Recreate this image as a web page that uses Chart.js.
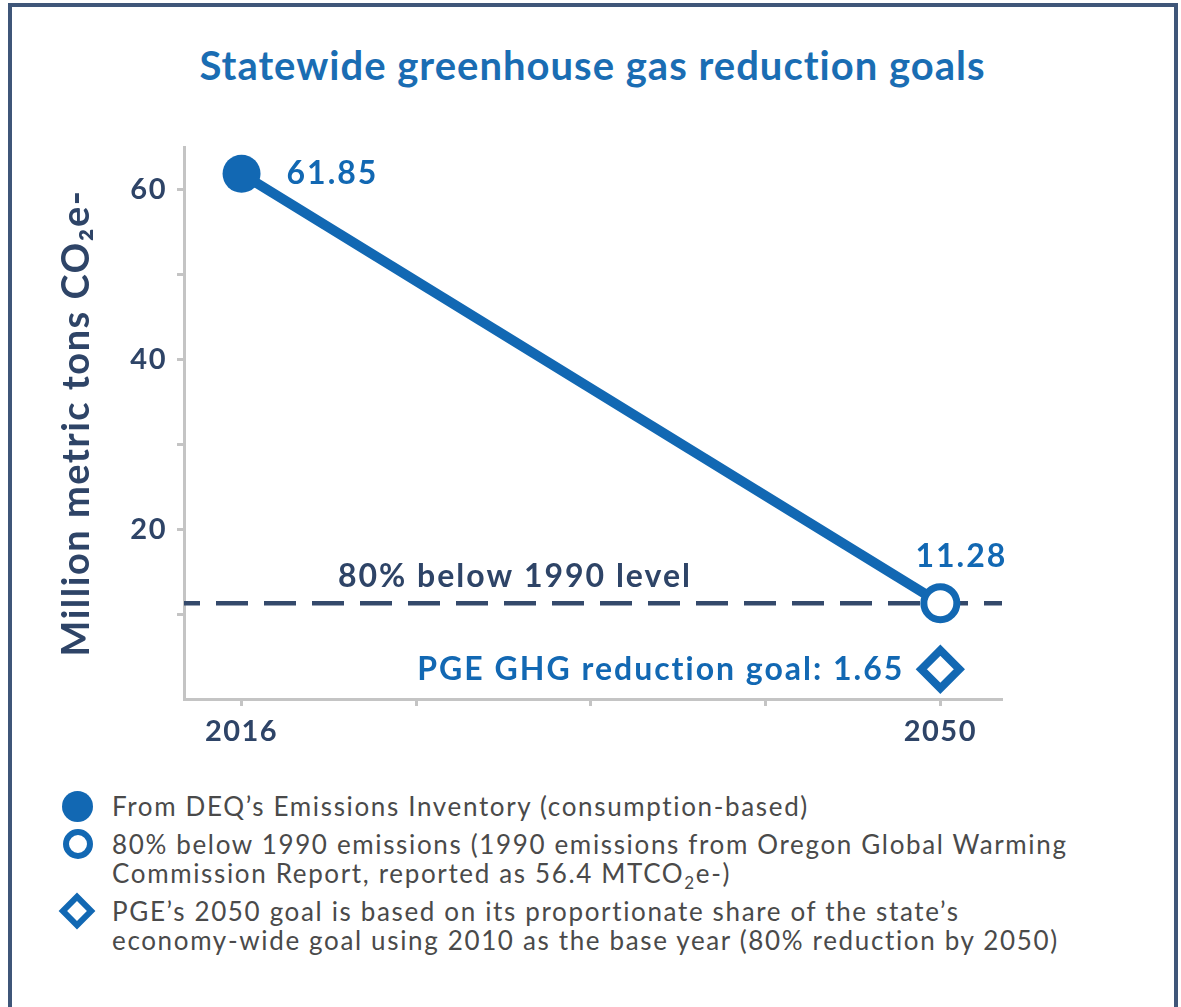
<!DOCTYPE html>
<html>
<head>
<meta charset="utf-8">
<script src="https://cdn.jsdelivr.net/npm/chart.js@4.4.1/dist/chart.umd.min.js"></script>
<style>
  html, body { margin: 0; padding: 0; background: #fff; overflow: hidden; }
  body { width: 1181px; height: 1007px; position: relative; font-family: Lato, "Open Sans", sans-serif; }
  #frame { position: absolute; left: 8px; top: 3px; width: 1170px; height: 1040px; border: 4px solid #3f5679; box-sizing: border-box; }
  #title { position: absolute; left: 2px; width: 1181px; top: 41px; text-align: center; font-size: 40px; font-weight: 700; letter-spacing: 1px; color: #1a6db3; line-height: 48px; }
  #wrap { position: absolute; left: 0; top: 0; width: 1181px; height: 780px; }
  #legend { position: absolute; left: 112px; top: 792px; color: #4a4a4a; font-size: 26px; letter-spacing: 1.65px; line-height: 29px; }
  #legend sub { font-size: 17px; line-height: 0; }
  .item { position: relative; margin-bottom: 9px; white-space: nowrap; }
  .mark { position: absolute; left: -50px; box-sizing: border-box; }
  .dot { width: 31px; height: 31px; border-radius: 50%; background: #1268b3; top: -1px; }
  .ring { width: 30px; height: 30px; border-radius: 50%; border: 6px solid #1268b3; top: -1px; left: -49px; }
  .dia { width: 26px; height: 26px; border: 6px solid #1268b3; transform: rotate(45deg); top: 1px; left: -48px; }
</style>
</head>
<body>
<div id="frame"></div>
<div id="title">Statewide greenhouse gas reduction goals</div>
<div id="wrap"><canvas id="chart"></canvas></div>
<div id="legend">
  <div class="item"><span class="mark dot"></span>From DEQ’s Emissions Inventory (consumption-based)</div>
  <div class="item"><span class="mark ring"></span>80% below 1990 emissions (1990 emissions from Oregon Global Warming<br>Commission Report, reported as 56.4 MTCO<sub>2</sub>e-)</div>
  <div class="item"><span class="mark dia"></span>PGE’s 2050 goal is based on its proportionate share of the state’s<br>economy-wide goal using 2010 as the base year (80% reduction by 2050)</div>
</div>
<script>
// dados do gráfico
const years = [2016, 2050];
const emissions = [61.85, 11.28];
const level1990 = 11.28;
const pgeGoal = 1.65;
const pgeGoalPlotted = 3.5; // onde o losango aparece na figura (acima do eixo)
const xTicks = [2016, 2024.5, 2033, 2041.5, 2050];
const xTickLabels = ['2016', '', '', '', '2050'];
const yTicks = [10, 20, 30, 40, 50, 60];
const yTickLabels = ['', '20', '', '40', '', '60'];
const xMin = 2013.2, xMax = 2053;

const blue = '#1268b3';
const navy = '#2e4467';
const grey = '#c4c4c4';

// espaçamento entre letras (a fonte original é mais larga que Lato)
const spacingPlugin = {
  id: 'espacamento',
  beforeDraw(chart) { chart.ctx.letterSpacing = '1.5px'; }
};

const labelsPlugin = {
  id: 'rotulos',
  afterDatasetsDraw(chart) {
    const ctx = chart.ctx;
    const p0 = chart.getDatasetMeta(0).data[0];
    const p1 = chart.getDatasetMeta(0).data[1];
    const d = chart.getDatasetMeta(2).data[0];
    const lineY = chart.scales.y.getPixelForValue(level1990);
    ctx.save();
    ctx.letterSpacing = '2px';
    ctx.textBaseline = 'middle';
    ctx.fillStyle = blue;
    ctx.font = '700 32px Lato';
    ctx.textAlign = 'left';
    ctx.fillText(emissions[0].toFixed(2), p0.x + 45, p0.y);
    ctx.textAlign = 'center';
    ctx.fillText(emissions[1].toFixed(2), p1.x + 21, p1.y - 47);
    ctx.textAlign = 'right';
    ctx.fillText('PGE GHG reduction goal: ' + pgeGoal.toFixed(2), d.x - 36, d.y);
    ctx.fillStyle = navy;
    ctx.textAlign = 'left';
    ctx.fillText('80% below 1990 level', chart.chartArea.left + 154, lineY - 27);
    ctx.restore();
  }
};

const ctx = document.getElementById('chart').getContext('2d');
new Chart(ctx, {
  type: 'line',
  data: {
    datasets: [
      {
        data: years.map((x, i) => ({ x: x, y: emissions[i] })),
        borderColor: blue,
        borderWidth: 10,
        pointRadius: [19, 16.5],
        pointBackgroundColor: [blue, '#fff'],
        pointBorderColor: blue,
        pointBorderWidth: [0, 7],
        clip: false
      },
      {
        data: [{ x: xMin, y: level1990 }, { x: xMax, y: level1990 }],
        borderColor: '#34496b',
        borderWidth: 4.5,
        borderDash: [32, 16],
        borderDashOffset: 16,
        pointRadius: 0
      },
      {
        data: [{ x: years[1], y: pgeGoalPlotted }],
        showLine: false,
        pointStyle: 'rectRot',
        pointRadius: 19,
        pointBorderWidth: 8,
        pointBorderColor: blue,
        pointBackgroundColor: '#fff',
        clip: false
      }
    ]
  },
  options: {
    responsive: true,
    maintainAspectRatio: false,
    animation: false,
    layout: { padding: { left: 0, right: 179, top: 147, bottom: 21 } },
    plugins: { legend: { display: false }, tooltip: { enabled: false } },
    scales: {
      x: {
        type: 'linear',
        min: xMin,
        max: xMax,
        afterBuildTicks: s => { s.ticks = xTicks.map(v => ({ value: v })); },
        afterFit: s => { s.height = 60; },
        grid: { drawOnChartArea: false, tickLength: 7, tickWidth: 3, tickColor: grey },
        border: { color: grey, width: 3 },
        ticks: {
          padding: 8,
          color: navy,
          font: { family: 'Lato', size: 29, weight: '700' },
          callback: (v, i) => xTickLabels[i]
        }
      },
      y: {
        min: 0,
        max: 65,
        afterBuildTicks: s => { s.ticks = yTicks.map(v => ({ value: v })); },
        afterFit: s => { s.width = 184; },
        grid: { drawOnChartArea: false, tickLength: 7, tickWidth: 3, tickColor: grey },
        border: { color: grey, width: 3 },
        ticks: {
          padding: 10,
          color: navy,
          font: { family: 'Lato', size: 29, weight: '700' },
          callback: (v, i) => yTickLabels[i]
        },
        title: {
          display: true,
          text: 'Million metric tons CO₂e-',
          color: navy,
          font: { family: 'Lato', size: 38, weight: '700' },
          padding: { top: 54, bottom: 0 }
        }
      }
    }
  },
  plugins: [spacingPlugin, labelsPlugin]
});
</script>
</body>
</html>
